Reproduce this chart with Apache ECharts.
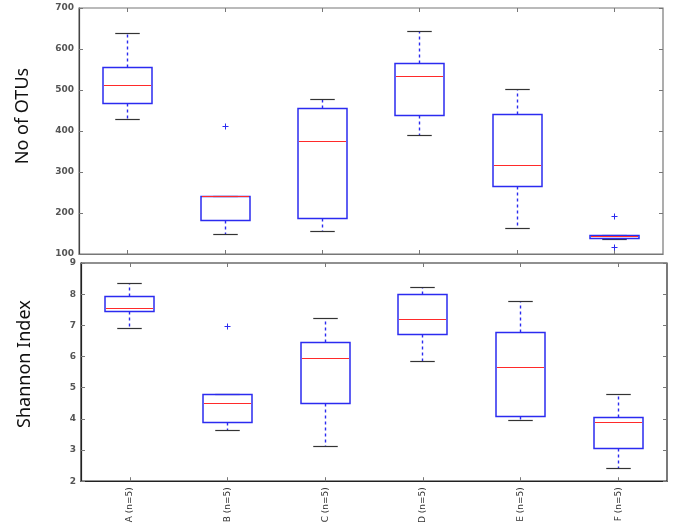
<!DOCTYPE html>
<html>
<head>
<meta charset="utf-8">
<script src="https://cdn.jsdelivr.net/npm/echarts@6/dist/echarts.min.js"></script>
<style>html,body{margin:0;padding:0;background:#fff;}#c{width:675px;height:526px;}</style>
</head>
<body>
<div id="c"></div>
<script>
const categories = ['A (n=5)', 'B (n=5)', 'C (n=5)', 'D (n=5)', 'E (n=5)', 'F (n=5)'];

// No of OTUs
const otuLow  = [427, 148, 155, 389, 161, 135];
const otuQ1   = [468, 182, 187, 437, 265, 137];
const otuMed  = [511, 241, 374, 534, 316, 142];
const otuQ3   = [556, 241, 456, 565, 440, 146];
const otuHigh = [638, 241, 477, 643, 501, 146];
const otuOutliers = [[1, 410], [5, 191], [5, 116]];
const otuTicks = [100, 700, 100]; // min, max, step

// Shannon Index
const shLow  = [6.89, 3.64, 3.12, 5.85, 3.96, 2.42];
const shQ1   = [7.44, 3.89, 4.48, 6.70, 4.07, 3.06];
const shMed  = [7.55, 4.50, 5.95, 7.20, 5.65, 3.87];
const shQ3   = [7.92, 4.78, 6.45, 7.98, 6.78, 4.04];
const shHigh = [8.34, 4.78, 7.23, 8.22, 7.75, 4.77];
const shOutliers = [[1, 6.96]];
const shTicks = [2, 9, 1];

const BLUE = '#2b2bf0', RED = '#ff2a2a', CAP = '#333333';

function rows(lo, q1, med, q3, hi) {
  return categories.map((c, i) => [i, lo[i], q1[i], med[i], q3[i], hi[i]]);
}
function snap(v) { return Math.round(v - 0.5) + 0.5; }

function renderBox(params, api) {
  const i = api.value(0);
  const bw = Math.round(api.size([1, 0])[0] * 0.5);
  const cx = snap(api.coord([i, api.value(3)])[0]);
  const yLo = snap(api.coord([i, api.value(1)])[1]);
  const yQ1 = snap(api.coord([i, api.value(2)])[1]);
  const yMed = snap(api.coord([i, api.value(3)])[1]);
  const yQ3 = snap(api.coord([i, api.value(4)])[1]);
  const yHi = snap(api.coord([i, api.value(5)])[1]);
  const children = [];
  const dash = { stroke: BLUE, lineWidth: 1.4, lineDash: [3, 3] };
  if (Math.abs(yHi - yQ3) > 0.5) children.push({ type: 'line', shape: { x1: cx, y1: yQ3, x2: cx, y2: yHi }, style: dash });
  if (Math.abs(yLo - yQ1) > 0.5) children.push({ type: 'line', shape: { x1: cx, y1: yQ1, x2: cx, y2: yLo }, style: dash });
  children.push({ type: 'line', shape: { x1: cx - bw / 4, y1: yHi, x2: cx + bw / 4, y2: yHi }, style: { stroke: CAP, lineWidth: 1.2 } });
  children.push({ type: 'line', shape: { x1: cx - bw / 4, y1: yLo, x2: cx + bw / 4, y2: yLo }, style: { stroke: CAP, lineWidth: 1.2 } });
  children.push({ type: 'rect', shape: { x: cx - bw / 2, y: yQ3, width: bw, height: yQ1 - yQ3 }, style: { fill: 'none', stroke: BLUE, lineWidth: 1.5 } });
  children.push({ type: 'line', shape: { x1: cx - bw / 2 + 1, y1: yMed, x2: cx + bw / 2 - 1, y2: yMed }, style: { stroke: RED, lineWidth: 1.2 } });
  return { type: 'group', children };
}

function renderFlier(params, api) {
  const p = api.coord([api.value(0), api.value(1)]);
  const x = snap(p[0]), y = snap(p[1]);
  const s = 3;
  return { type: 'group', children: [
    { type: 'line', shape: { x1: x - s, y1: y, x2: x + s, y2: y }, style: { stroke: BLUE, lineWidth: 1 } },
    { type: 'line', shape: { x1: x, y1: y - s, x2: x, y2: y + s }, style: { stroke: BLUE, lineWidth: 1 } }
  ] };
}

const tickLabel = { fontFamily: 'DejaVu Sans', fontWeight: 'bold', fontSize: 9, color: '#555' };

function xAxes(gi, bottomBorder, showLabels) {
  return [
    { gridIndex: gi, type: 'category', data: categories, position: 'bottom', boundaryGap: true,
      axisLine: { show: true, lineStyle: { color: bottomBorder, width: 1.2 } },
      axisTick: { show: true, inside: true, alignWithLabel: true, length: 4, lineStyle: { color: '#777' } },
      axisLabel: showLabels ? { show: true, rotate: 90, margin: 6, fontFamily: 'DejaVu Sans', fontSize: 9, color: '#333' } : { show: false },
      splitLine: { show: false } },
    { gridIndex: gi, type: 'category', data: categories, position: 'top', boundaryGap: true,
      axisLine: { show: false },
      axisTick: { show: true, inside: true, alignWithLabel: true, length: 4, lineStyle: { color: '#777' } },
      axisLabel: { show: false }, splitLine: { show: false } }
  ];
}

function yAxes(gi, t, name, lineColor, shift) {
  return [
    { gridIndex: gi, type: 'value', min: t[0], max: t[1], interval: t[2], position: 'left',
      name: name, nameLocation: 'middle', nameGap: 47,
      nameTextStyle: { fontFamily: 'Noto Sans', fontSize: 18, color: '#111', padding: [0, 0, 0, shift] },
      axisLine: { show: true, lineStyle: { color: lineColor, width: 1.2 } },
      axisTick: { show: true, inside: true, length: 4, lineStyle: { color: '#777' } },
      axisLabel: Object.assign({ margin: 5 }, tickLabel),
      splitLine: { show: false } },
    { gridIndex: gi, type: 'value', min: t[0], max: t[1], interval: t[2], position: 'right',
      axisLine: { show: false },
      axisTick: { show: true, inside: true, length: 4, lineStyle: { color: '#777' } },
      axisLabel: { show: false }, splitLine: { show: false } }
  ];
}

const chart = echarts.init(document.getElementById('c'), null, { renderer: 'canvas' });
chart.setOption({
  animation: false,
  backgroundColor: '#fff',
  grid: [
    { left: 79, top: 8, width: 584, height: 246, show: true, borderColor: '#777', borderWidth: 1.2, backgroundColor: 'transparent' },
    { left: 81, top: 263, width: 586, height: 227, show: true, borderColor: '#222', borderWidth: 1.2, backgroundColor: 'transparent' }
  ],
  xAxis: [].concat(xAxes(0, '#777', false), xAxes(1, '#222', true)),
  yAxis: [].concat(yAxes(0, otuTicks, 'No of OTUs', '#444', 30), yAxes(1, shTicks, 'Shannon Index', '#222', 16)),
  series: [
    { type: 'custom', xAxisIndex: 0, yAxisIndex: 0, renderItem: renderBox,
      encode: { x: 0, y: [1, 2, 3, 4, 5] }, data: rows(otuLow, otuQ1, otuMed, otuQ3, otuHigh) },
    { type: 'custom', xAxisIndex: 0, yAxisIndex: 0, renderItem: renderFlier,
      encode: { x: 0, y: 1 }, data: otuOutliers },
    { type: 'custom', xAxisIndex: 2, yAxisIndex: 2, renderItem: renderBox,
      encode: { x: 0, y: [1, 2, 3, 4, 5] }, data: rows(shLow, shQ1, shMed, shQ3, shHigh) },
    { type: 'custom', xAxisIndex: 2, yAxisIndex: 2, renderItem: renderFlier,
      encode: { x: 0, y: 1 }, data: shOutliers }
  ]
});
</script>
</body>
</html>
